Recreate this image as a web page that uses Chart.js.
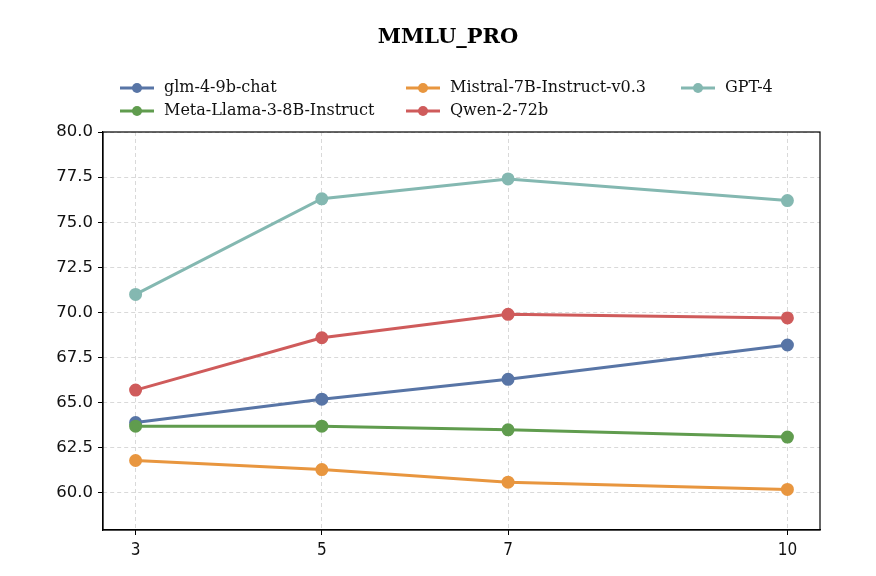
<!DOCTYPE html>
<html>
<head>
<meta charset="utf-8">
<script src="https://cdn.jsdelivr.net/npm/chart.js@4"></script>
<style>
  html, body { margin: 0; padding: 0; background: #fff; }
  #wrap { width: 876px; height: 576px; position: relative; }
</style>
</head>
<body>
<div id="wrap"><canvas id="chart" width="876" height="576"></canvas></div>
<script>
// data
const shots = [3, 5, 7, 10];
const glm = [63.9, 65.2, 66.3, 68.2];
const llama = [63.7, 63.7, 63.5, 63.1];
const mistral = [61.8, 61.3, 60.6, 60.2];
const qwen = [65.7, 68.6, 69.9, 69.7];
const gpt4 = [71.0, 76.3, 77.4, 76.2];
const yTicks = [60, 62.5, 65, 67.5, 70, 72.5, 75, 77.5, 80];

const series = [
    { label: 'glm-4-9b-chat', values: glm, color: '#5875a6' },
    { label: 'Meta-Llama-3-8B-Instruct', values: llama, color: '#609c4e' },
    { label: 'Mistral-7B-Instruct-v0.3', values: mistral, color: '#e8963f' },
    { label: 'Qwen-2-72b', values: qwen, color: '#cf5b5b' },
    { label: 'GPT-4', values: gpt4, color: '#84b8b1' }
];

// title, legend and full frame drawn by hand to match the matplotlib look
const decor = {
    id: 'decor',
    afterDraw(chart) {
        const ctx = chart.ctx;
        const a = chart.chartArea;
        ctx.save();
        ctx.strokeStyle = '#000';
        ctx.lineWidth = 1.2;
        ctx.strokeRect(a.left, a.top, a.right - a.left, a.bottom - a.top);

        ctx.fillStyle = '#000';
        ctx.font = 'bold 21px "DejaVu Serif"';
        ctx.textAlign = 'center';
        ctx.textBaseline = 'middle';
        ctx.fillText('MMLU_PRO', 448, 38);

        // column-major legend, 3 columns
        const cols = [120, 406, 681];
        const rows = [88, 111];
        ctx.font = '16px "DejaVu Serif"';
        ctx.textAlign = 'left';
        chart.data.datasets.forEach((ds, i) => {
            const x = cols[Math.floor(i / 2)];
            const y = rows[i % 2];
            ctx.strokeStyle = ds.borderColor;
            ctx.lineWidth = 3;
            ctx.beginPath();
            ctx.moveTo(x, y);
            ctx.lineTo(x + 34, y);
            ctx.stroke();
            ctx.fillStyle = ds.borderColor;
            ctx.beginPath();
            ctx.arc(x + 17, y, 5, 0, Math.PI * 2);
            ctx.fill();
            ctx.fillStyle = '#111';
            ctx.fillText(ds.label, x + 44, y);
        });
        ctx.restore();
    }
};

new Chart(document.getElementById('chart').getContext('2d'), {
    type: 'line',
    data: {
        datasets: series.map((s, i) => ({
            label: s.label,
            data: shots.map((x, j) => ({ x: x, y: s.values[j] })),
            borderColor: s.color,
            backgroundColor: s.color,
            pointBackgroundColor: s.color,
            pointBorderColor: s.color,
            borderWidth: 3,
            pointRadius: 5,
            tension: 0,
            order: series.length - i
        }))
    },
    options: {
        responsive: false,
        animation: false,
        layout: { padding: { top: 132, right: 56, left: 0, bottom: 0 } },
        plugins: {
            legend: { display: false },
            tooltip: { enabled: false }
        },
        scales: {
            x: {
                type: 'linear',
                min: 2.65,
                max: 10.35,
                afterBuildTicks: (scale) => { scale.ticks = shots.map(v => ({ value: v })); },
                afterFit: (scale) => { scale.height = 46; },
                ticks: {
                    color: '#111',
                    font: { family: '"DejaVu Sans Condensed", "Liberation Sans Narrow", "DejaVu Sans"', size: 17 },
                    padding: 5,
                    callback: (v) => String(v)
                },
                grid: { color: '#d9d9d9', tickColor: '#000', tickLength: 5, lineWidth: 1 },
                border: { color: '#000', width: 1.2, dash: [4, 3] }
            },
            y: {
                min: 57.95,
                max: 80,
                afterBuildTicks: (scale) => { scale.ticks = yTicks.map(v => ({ value: v })); },
                afterFit: (scale) => { scale.width = 103; },
                ticks: {
                    color: '#111',
                    font: { family: 'DejaVu Sans', size: 16.5 },
                    padding: 5,
                    callback: (v) => v.toFixed(1)
                },
                grid: { color: '#d9d9d9', tickColor: '#000', tickLength: 5, lineWidth: 1 },
                border: { color: '#000', width: 1.2, dash: [4, 3] }
            }
        }
    },
    plugins: [decor]
});
</script>
</body>
</html>
